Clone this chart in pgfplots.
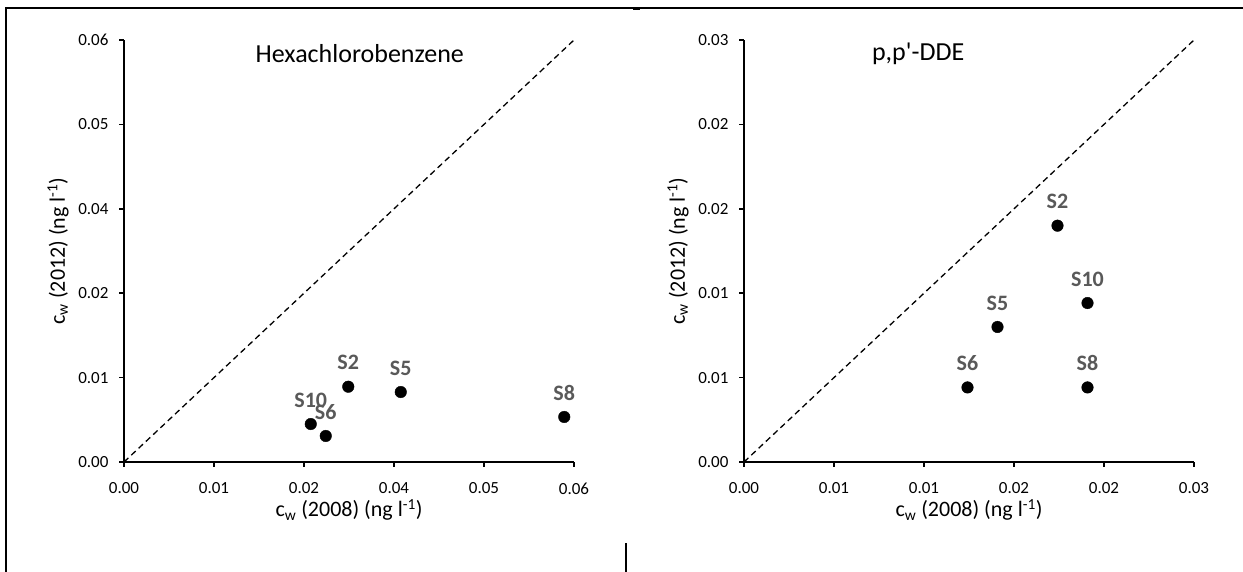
\documentclass[border=0pt]{standalone}
\usepackage{pgfplots}
\pgfplotsset{compat=1.18}
\usepackage{pgfplotstable}
\usepackage{fontspec}
\setmainfont{Carlito}
\definecolor{lblgray}{HTML}{595959}

% cw in ng/l, 2008 vs 2012
\pgfplotstableread{
name x y
S2 0.0299 0.0107
S5 0.0369 0.00995
S8 0.0587 0.0064
S10 0.0249 0.0054
S6 0.0269 0.0037
}\hcb

\pgfplotstableread{
name x y
S2 0.0209 0.0168
S10 0.0229 0.0113
S5 0.0169 0.0096
S6 0.0149 0.0053
S8 0.0229 0.0053
}\dde

\pgfplotsset{
  panel/.style={
    scale only axis, width=450pt, height=422pt, anchor=south west,
    axis lines=left, axis line style={-, line width=1.5pt},
    tick align=outside, major tick length=5pt,
    every tick/.style={black, line width=1.5pt},
    clip=false, xmin=0, ymin=0, scaled ticks=false,
    tick label style={font=\fontsize{17}{17}\selectfont},
    /pgf/number format/fixed, /pgf/number format/fixed zerofill,
    /pgf/number format/precision=2, /pgf/number format/assume math mode=true,
    xticklabel style={yshift=-12pt},
    yticklabel style={xshift=-7pt},
    xlabel style={at={(axis description cs:0.5,-0.114)}, anchor=center, font=\fontsize{22}{22}\selectfont},
    ylabel style={at={(axis description cs:-0.1467,0.5)}, anchor=center, font=\fontsize{22}{22}\selectfont},
    xlabel={c\textsubscript{w} (2008) (ng l\textsuperscript{-1})},
    ylabel={c\textsubscript{w} (2012) (ng l\textsuperscript{-1})},
  },
  pts/.style={only marks, mark=*, mark size=5.8pt, black,
    nodes near coords, point meta=explicit symbolic,
    every node near coord/.append style={anchor=center, yshift=24pt,
      font=\bfseries\fontsize{22}{22}\selectfont, text=lblgray}},
}

\begin{document}
\begin{tikzpicture}
\path[use as bounding box] (0,0) rectangle (1243pt,572pt);
\draw[line width=2pt] (6pt,0) -- (6pt,564pt) -- (1243pt,564pt);
\draw[line width=2pt] (633pt,563pt) -- (640pt,563pt);
\draw[line width=2pt] (626pt,0) -- (626pt,29pt);

\begin{axis}[panel, at={(124pt,110pt)}, xmax=0.06, ymax=0.06,
  xtick={0,0.012,0.024,0.036,0.048,0.06},
  ytick={0,0.012,0.024,0.036,0.048,0.06}]
  \addplot[black, line width=1.3pt, dash pattern=on 6pt off 4pt] coordinates {(0,0) (0.06,0.06)};
  \addplot[pts] table[x=x, y=y, meta=name] {\hcb};
  \node[font=\fontsize{26}{26}\selectfont] at (axis description cs:0.524,0.968) {Hexachlorobenzene};
\end{axis}

\begin{axis}[panel, at={(744pt,110pt)}, xmax=0.03, ymax=0.03,
  xtick={0,0.006,0.012,0.018,0.024,0.03},
  ytick={0,0.006,0.012,0.018,0.024,0.03}]
  \addplot[black, line width=1.3pt, dash pattern=on 6pt off 4pt] coordinates {(0,0) (0.03,0.03)};
  \addplot[pts] table[x=x, y=y, meta=name] {\dde};
  \node[font=\fontsize{26}{26}\selectfont] at (axis description cs:0.387,0.968) {p,p\textquotesingle-DDE};
\end{axis}
\end{tikzpicture}
\end{document}
